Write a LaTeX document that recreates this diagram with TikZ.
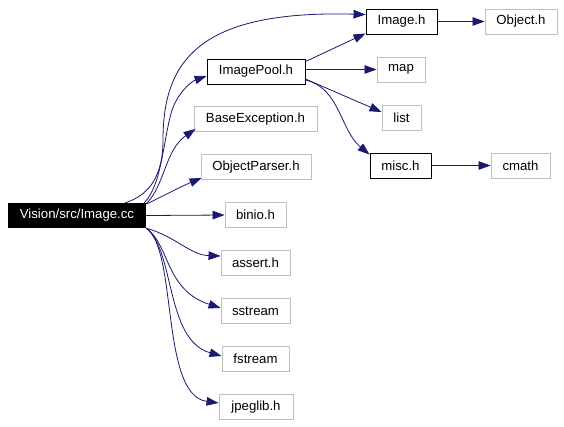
\documentclass[tikz,border=0pt]{standalone}
\usepackage{fontspec}
\setmainfont{Liberation Sans}
\usetikzlibrary{arrows.meta,calc}
\definecolor{edgeblue}{HTML}{191970}
\definecolor{boxgray}{HTML}{BFBFBF}
\begin{document}
\begin{tikzpicture}[x=1pt,y=-1pt,
  every node/.style={inner sep=0pt,minimum height=25pt,font=\fontsize{13.2}{16}\selectfont},
  graybox/.style={draw=boxgray,line width=0.9pt,fill=white},
  blackbox/.style={draw=black,line width=0.9pt,fill=white},
  rootbox/.style={fill=black,text=white},
  edge/.style={draw=edgeblue,line width=0.8pt,-{Triangle[length=12pt,width=8.5pt]}}]
\path[use as bounding box,fill=white] (0,0) rectangle (564,426);
% nodes
\node[rootbox,minimum width=138pt] (cc) at (77,215.5) {Vision/src/Image.cc};
\node[blackbox,minimum width=71pt] (img) at (401.5,21.5) {Image.h};
\node[graybox,minimum width=72pt] (obj) at (521,21.5) {Object.h};
\node[blackbox,minimum width=98pt] (pool) at (256,71.5) {ImagePool.h};
\node[graybox,minimum width=48pt] (map) at (401,69.5) {map};
\node[graybox,minimum width=39pt] (list) at (401.5,117.5) {list};
\node[blackbox,minimum width=61pt] (misc) at (400.5,165.5) {misc.h};
\node[graybox,minimum width=59pt] (cmath) at (520.5,165.5) {cmath};
\node[graybox,minimum width=123pt] (bex) at (255.5,119) {BaseException.h};
\node[graybox,minimum width=110pt] (op) at (256,167) {ObjectParser.h};
\node[graybox,minimum width=61pt] (binio) at (255.5,215) {binio.h};
\node[graybox,minimum width=69pt] (assert) at (255.5,263) {assert.h};
\node[graybox,minimum width=69pt] (sstream) at (255.5,311) {sstream};
\node[graybox,minimum width=67pt] (fstream) at (255.5,359) {fstream};
\node[graybox,minimum width=74pt] (jpeg) at (256,407) {jpeglib.h};
% edges from Image.cc
\draw[edge] ($(cc.north east)+(-21,0)$) .. controls (150,195) and (163,175) .. (163,140)
  .. controls (163,60) and (200,10) .. ($(img.west)+(0,-7)$);
\draw[edge] ($(cc.north east)+(-2,0)$) .. controls (162,185) and (163,140) .. (172,110)
  .. controls (180,88) and (195,80) .. ($(pool.west)+(0,4.5)$);
\draw[edge] ($(cc.north east)+(0,1)$) .. controls (165,185) and (165,150) .. ($(bex.south west)+(2,-3)$);
\draw[edge] ($(cc.north east)+(1,1)$) .. controls (165,195) and (180,187) .. ($(op.south west)+(1,-2)$);
\draw[edge] (cc.east) -- (binio.west);
\draw[edge] (cc.south east) .. controls (175,236) and (190,255) .. ($(assert.west)+(0,-7)$);
\draw[edge] (cc.south east) .. controls (170,245) and (165,290) .. ($(sstream.west)+(0,-3)$);
\draw[edge] (cc.south east) .. controls (175,250) and (165,340) .. ($(fstream.west)+(0,-3)$);
\draw[edge] (cc.south east) .. controls (178,250) and (160,395) .. ($(jpeg.west)+(0,-4)$);
% edges from ImagePool.h
\draw[edge] ($(pool.north east)+(0,3)$) -- ($(img.south west)+(0,-1)$);
\draw[edge] (pool.east |- map.west) -- (map.west);
\draw[edge] ($(pool.east)+(0,7.5)$) -- ($(list.west)+(0,-5.5)$);
\draw[edge] ($(pool.east)+(0,8.5)$) .. controls (340,88) and (340,130) .. ($(misc.north west)+(0,2)$);
% others
\draw[edge] (img.east) -- (obj.west);
\draw[edge] (misc.east) -- (cmath.west);
\end{tikzpicture}
\end{document}
